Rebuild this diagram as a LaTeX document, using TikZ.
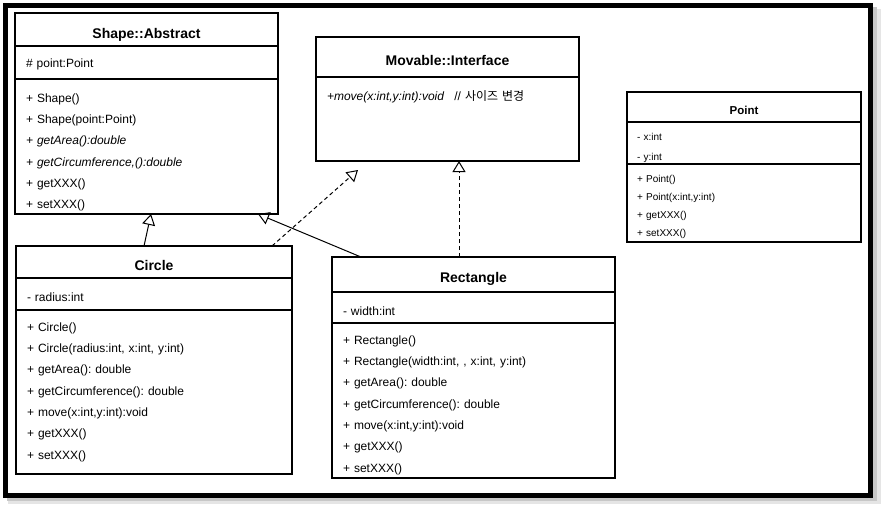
\documentclass[tikz,border=0pt]{standalone}
\usepackage{fontspec}
\setmainfont{Liberation Sans}
\newfontfamily\kr{Noto Sans CJK KR}
\usetikzlibrary{arrows.meta,positioning}
\frenchspacing

\begin{document}
\begin{tikzpicture}[x=1pt,y=-1pt,line width=1.1pt,
  gen/.style={-{Triangle[open,length=11pt,width=13pt]},line width=1pt},
  real/.style={gen,dash pattern=on 4pt off 3pt}]
  \tikzstyle{title}=[draw,outer sep=0pt,inner sep=0pt,text height=16pt,text depth=0pt,font=\fontsize{14}{16}\selectfont\bfseries]
  \tikzstyle{part}=[draw,outer sep=0pt,inner ysep=0pt,inner xsep=11pt,align=left,font=\fontsize{12}{21.3}\selectfont]
  \tikzstyle{small}=[inner xsep=10pt,font=\fontsize{10}{18}\selectfont]

  \useasboundingbox (0,0) rectangle (882,507);
  \fill[white] (0,0) rectangle (882,507);
  \fill[black!10] (8,9) rectangle (881,504);
  \fill[black!22] (7,7) rectangle (877,501);
  \fill[white] (3,3) rectangle (873,498);
  \draw[line width=5pt] (5.5,5.5) rectangle (870.5,495.5);

  \node[title,minimum width=263pt,minimum height=33pt,text height=17pt] (abs) at (146.5,29.5) {Shape::Abstract};
  \node[part,text width=241pt,text height=21.3pt,text depth=11.7pt] (absA) [below=0pt of abs] {\# point:Point};
  \node[part,text width=241pt,text height=23.3pt,text depth=111.7pt] (absM) [below=0pt of absA] {+ Shape()\\
    + Shape(point:Point)\\
    \textit{+ getArea():double}\\
    \textit{+ getCircumference,():double}\\
    + getXXX()\\
    + setXXX()};

  \node[title,minimum width=263pt,minimum height=40pt] (mov) at (447.5,57) {Movable::Interface};
  \node[part,text width=241pt,text height=23pt,text depth=61pt] (movM) [below=0pt of mov]
    {\textit{+move(x:int,y:int):void}\hspace{10pt}// {\kr 사이즈 변경}};

  \node[title,minimum width=234pt,minimum height=30pt,font=\fontsize{11.5}{14}\selectfont\bfseries,text height=14pt] (pt) at (744,107) {Point};
  \node[part,small,text width=214pt,text height=18.6pt,text depth=23.4pt,font=\fontsize{10}{20}\selectfont] (ptA) [below=0pt of pt] {- x:int\\
    - y:int};
  \node[part,small,text width=214pt,text height=18.6pt,text depth=59.4pt] (ptM) [below=0pt of ptA] {+ Point()\\
    + Point(x:int,y:int)\\
    + getXXX()\\
    + setXXX()};

  \node[title,minimum width=276pt,minimum height=32pt] (circ) at (154,262) {Circle};
  \node[part,text width=254pt,text height=23.3pt,text depth=8.7pt] (circA) [below=0pt of circ] {- radius:int};
  \node[part,text width=254pt,text height=21.3pt,text depth=142.7pt] (circM) [below=0pt of circA] {+ Circle()\\
    + Circle(radius:int, x:int, y:int)\\
    + getArea(): double\\
    + getCircumference(): double\\
    + move(x:int,y:int):void\\
    + getXXX()\\
    + setXXX()};

  \node[title,minimum width=283pt,minimum height=35pt] (rect) at (473.5,274.5) {Rectangle};
  \node[part,text width=261pt,text height=23.3pt,text depth=7.7pt] (rectA) [below=0pt of rect] {- width:int};
  \node[part,text width=261pt,text height=21.3pt,text depth=133.7pt] (rectM) [below=0pt of rectA] {+ Rectangle()\\
    + Rectangle(width:int, , x:int, y:int)\\
    + getArea(): double\\
    + getCircumference(): double\\
    + move(x:int,y:int):void\\
    + getXXX()\\
    + setXXX()};

  \draw[gen] ([xshift=128pt]circ.north west) -- ([xshift=136pt]absM.south west);
  \draw[gen] ([xshift=29pt]rect.north west) -- ([xshift=-20pt]absM.south east);
  \draw[real] ([xshift=-20pt]circ.north east) -- ([xshift=42pt,yshift=-9pt]movM.south west);
  \draw[real] ([xshift=127pt]rect.north west) -- ([xshift=143pt]movM.south west);
\end{tikzpicture}
\end{document}
